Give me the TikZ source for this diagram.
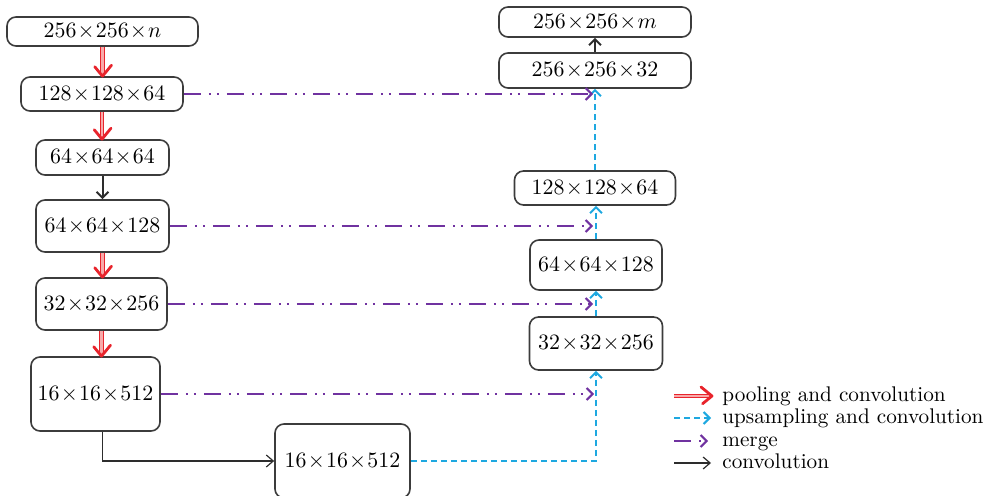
\documentclass[tikz,border=0pt]{standalone}
\usetikzlibrary{arrows.meta,decorations.markings}
\definecolor{poolred}{RGB}{232,36,44}
\definecolor{poolpink}{RGB}{248,170,170}
\definecolor{upblue}{RGB}{30,168,224}
\definecolor{mergepurple}{RGB}{112,50,160}
\definecolor{boxgray}{RGB}{60,60,60}
\definecolor{convgray}{RGB}{45,45,45}
\newcommand{\tm}{\mskip1mu{\times}\mskip1mu}
\begin{document}
\begin{tikzpicture}[x=0.5pt,y=-0.5pt,
  box/.style={draw=boxgray, line width=0.8pt, rounded corners=4.5pt, inner sep=0pt, align=center,
    font=\fontsize{10.8}{13}\selectfont},
  pool/.style={draw=poolred, double=poolpink, double distance=1.1pt, line width=0.5pt, shorten >=1pt,
    postaction={decorate, decoration={markings, mark=at position 1 with {
      \draw[poolred, line width=1.4pt, line cap=round, line join=round] (-5.5pt,4.5pt) -- (0,0) -- (-5.5pt,-4.5pt);}}}},
  upsamp/.style={draw=upblue, line width=1pt, dash pattern=on 3.2pt off 1.8pt,
    -{Straight Barb[length=3pt,width=6pt,line width=1pt]}},
  merge/.style={draw=mergepurple, line width=1pt,
    dash pattern=on 8.5pt off 4pt on 1pt off 3pt on 1pt off 4pt,
    -{Straight Barb[length=3pt,width=6pt,line width=1pt]}},
  conv/.style={draw=convgray, line width=0.6pt, -{Straight Barb[length=3.5pt,width=6pt,line width=0.6pt]}},
  convthick/.style={draw=convgray, line width=1pt, -{Straight Barb[length=3pt,width=6pt,line width=1pt]}},
  legtext/.style={anchor=base west, inner sep=0pt, font=\fontsize{10.6}{12}\selectfont}
]
\useasboundingbox (0,0) rectangle (989,496);

% left column
\node[box, minimum width=95.5pt, minimum height=14.5pt] (b1) at (102.5,31.5) {$256\tm256\tm n$};
\node[box, minimum width=81pt, minimum height=17pt] (b2) at (102,94) {$128\tm128\tm64$};
\node[box, minimum width=66.5pt, minimum height=17.5pt] (b3) at (102.5,157.5) {$64\tm64\tm64$};
\node[box, minimum width=66.5pt, minimum height=26pt] (b4) at (102.5,226) {$64\tm64\tm128$};
\node[box, minimum width=65.5pt, minimum height=26pt] (b5) at (101.5,304) {$32\tm32\tm256$};
\node[box, minimum width=64.5pt, minimum height=37pt] (b6) at (95.5,394) {$16\tm16\tm512$};
\node[box, minimum width=67.5pt, minimum height=37pt] (b7) at (342.5,461) {$16\tm16\tm512$};

% right column
\node[box, minimum width=96pt, minimum height=15pt] (b8) at (595,22) {$256\tm256\tm m$};
\node[box, minimum width=96pt, minimum height=17.5pt] (b9) at (595,70.5) {$256\tm256\tm32$};
\node[box, minimum width=80.5pt, minimum height=17pt] (b10) at (595,188) {$128\tm128\tm64$};
\node[box, minimum width=66pt, minimum height=25pt] (b11) at (596,265) {$64\tm64\tm128$};
\node[box, minimum width=66.5pt, minimum height=26.5pt] (b12) at (596,343.5) {$32\tm32\tm256$};

% contracting path
\draw[pool] (b1.south) -- (b1.south |- b2.north);
\draw[pool] (b2.south) -- (b2.south |- b3.north);
\draw[convthick] (b3.south) -- (b3.south |- b4.north);
\draw[pool] (b4.south) -- (b4.south |- b5.north);
\draw[pool] (b5.south) -- (b5.south |- b6.north);
\draw[conv] ([xshift=3.5pt]b6.south) |- (b7.west);

% expanding path
\draw[upsamp] (b7.east) -| (b12.south);
\draw[upsamp] (b12.north) -- (b12.north |- b11.south);
\draw[upsamp] (b11.north) -- (b11.north |- b10.south);
\draw[upsamp] (b10.north) -- (b10.north |- b9.south);
\draw[convthick] (b9.north) -- (b9.north |- b8.south);

% merges
\coordinate (m2) at (593,94);
\coordinate (m4) at (593,226);
\coordinate (m5) at (593,304);
\coordinate (m6) at (594,394);
\draw[merge] (b2.east) -- (m2);
\draw[merge] (b4.east) -- (m4);
\draw[merge] (b5.east) -- (m5);
\draw[merge] (b6.east) -- (m6);

% legend
\coordinate (l1s) at (674,396); \coordinate (l1e) at (712,396);
\coordinate (l2s) at (674,418); \coordinate (l2e) at (711,418);
\coordinate (l3s) at (674,441); \coordinate (l3e) at (708,441);
\coordinate (l4s) at (674,463); \coordinate (l4e) at (711,463);
\draw[pool] (l1s) -- (l1e);
\draw[upsamp] (l2s) -- (l2e);
\draw[merge] (l3s) -- (l3e);
\draw[conv] (l4s) -- (l4e);
\node[legtext] (t1) at (722,401) {pooling and convolution};
\node[legtext] (t2) at (722,423) {upsampling and convolution};
\node[legtext] (t3) at (722,446) {merge};
\node[legtext] (t4) at (722,468) {convolution};
\end{tikzpicture}
\end{document}
